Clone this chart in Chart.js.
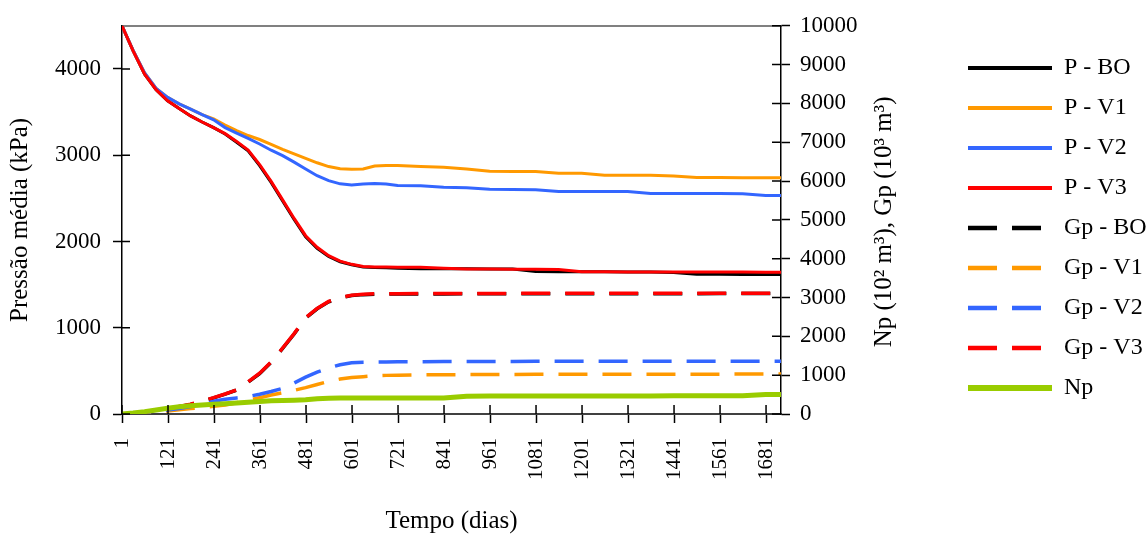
<!DOCTYPE html>
<html>
<head>
<meta charset="utf-8">
<script src="https://cdn.jsdelivr.net/npm/chart.js@4.4.0/dist/chart.umd.min.js"></script>
<style>
  html, body { margin: 0; padding: 0; background: #fff; }
  #wrap { width: 1147px; height: 534px; }
</style>
</head>
<body>
<div id="wrap"><canvas id="grafico" width="1147" height="534"></canvas></div>
<script>
// dias da simulacao
const days = [1, 30, 60, 90, 120, 150, 180, 210, 240, 270, 300, 330, 360, 390, 420, 450, 480, 510, 540, 570,
              600, 630, 660, 690, 720, 780, 840, 900, 960, 1020, 1080, 1140, 1200, 1260, 1320, 1380, 1440, 1500, 1560, 1620, 1680, 1720];

// pressao media (kPa) - eixo esquerdo
const pBO = [4500, 4210, 3940, 3760, 3630, 3540, 3455, 3385, 3320, 3245, 3150, 3050, 2880, 2685, 2470, 2255, 2055, 1920, 1825, 1765,
             1730, 1705, 1698, 1696, 1690, 1685, 1684, 1683, 1682, 1680, 1652, 1650, 1650, 1648, 1647, 1646, 1640, 1620, 1619, 1618, 1617, 1617];
const pV1 = [4500, 4215, 3955, 3775, 3670, 3595, 3535, 3470, 3420, 3350, 3285, 3228, 3182, 3125, 3068, 3015, 2963, 2912, 2868, 2842,
             2838, 2840, 2875, 2880, 2880, 2870, 2860, 2840, 2815, 2812, 2810, 2790, 2790, 2768, 2767, 2767, 2760, 2742, 2741, 2740, 2740, 2740];
const pV2 = [4500, 4215, 3955, 3775, 3670, 3595, 3535, 3470, 3410, 3320, 3255, 3195, 3130, 3058, 2995, 2920, 2840, 2762, 2705, 2668,
             2655, 2665, 2672, 2665, 2648, 2645, 2628, 2624, 2605, 2601, 2600, 2580, 2578, 2578, 2578, 2556, 2555, 2555, 2555, 2553, 2533, 2532];
const pV3 = [4500, 4210, 3940, 3760, 3630, 3540, 3455, 3385, 3320, 3250, 3160, 3060, 2892, 2697, 2482, 2267, 2067, 1932, 1835, 1772,
             1735, 1710, 1705, 1703, 1702, 1700, 1690, 1680, 1680, 1679, 1678, 1676, 1650, 1648, 1647, 1646, 1646, 1645, 1645, 1645, 1644, 1643];

// Gp (10^3 m3) e Np (10^2 m3) - eixo direito
const gpBO = [0, 20, 50, 85, 120, 190, 245, 330, 415, 510, 617, 820, 1040, 1330, 1690, 2060, 2470, 2710, 2890, 2990,
              3050, 3075, 3085, 3090, 3090, 3092, 3094, 3095, 3096, 3097, 3098, 3098, 3099, 3100, 3100, 3100, 3100, 3100, 3101, 3101, 3102, 3102];
const gpV1 = [0, 10, 30, 55, 80, 110, 140, 170, 200, 230, 290, 350, 420, 490, 545, 610, 680, 760, 840, 900,
              940, 960, 985, 995, 1000, 1008, 1012, 1015, 1018, 1020, 1022, 1023, 1024, 1025, 1025, 1026, 1026, 1027, 1027, 1028, 1028, 1028];
const gpV2 = [0, 15, 40, 70, 100, 140, 190, 250, 330, 380, 415, 450, 510, 580, 660, 800, 950, 1080, 1185, 1270,
              1320, 1335, 1340, 1342, 1345, 1347, 1350, 1352, 1354, 1355, 1356, 1357, 1358, 1358, 1359, 1360, 1360, 1361, 1361, 1362, 1362, 1362];
const gpV3 = [0, 20, 50, 85, 125, 195, 250, 335, 420, 515, 620, 830, 1050, 1340, 1700, 2070, 2480, 2720, 2900, 3000,
              3060, 3085, 3095, 3100, 3100, 3102, 3104, 3105, 3106, 3107, 3108, 3108, 3109, 3110, 3110, 3110, 3110, 3110, 3111, 3111, 3112, 3112];
const np = [0, 25, 60, 105, 150, 185, 210, 230, 250, 265, 285, 305, 325, 340, 350, 355, 365, 395, 405, 410,
            410, 410, 410, 410, 410, 410, 410, 460, 462, 463, 464, 465, 465, 465, 466, 466, 467, 467, 467, 468, 500, 505];

const xTickDays = [1, 121, 241, 361, 481, 601, 721, 841, 961, 1081, 1201, 1321, 1441, 1561, 1681];
const leftTicks = [0, 1000, 2000, 3000, 4000];

const FONT = "'Liberation Serif', 'Times New Roman', serif";
Chart.defaults.font.family = FONT;
Chart.defaults.color = '#000';

function pts(vals) {
    return days.map((d, i) => ({ x: d, y: vals[i] }));
}

const dash = [29, 15];
const series = [
    { label: 'P - BO',  data: pBO,  color: '#000000', axis: 'y',  width: 3, dashed: false },
    { label: 'P - V1',  data: pV1,  color: '#FF9900', axis: 'y',  width: 3, dashed: false },
    { label: 'P - V2',  data: pV2,  color: '#3366FF', axis: 'y',  width: 3, dashed: false },
    { label: 'P - V3',  data: pV3,  color: '#FF0000', axis: 'y',  width: 3, dashed: false },
    { label: 'Gp - BO', data: gpBO, color: '#000000', axis: 'y1', width: 3.5, dashed: true },
    { label: 'Gp - V1', data: gpV1, color: '#FF9900', axis: 'y1', width: 3.5, dashed: true },
    { label: 'Gp - V2', data: gpV2, color: '#3366FF', axis: 'y1', width: 3.5, dashed: true },
    { label: 'Gp - V3', data: gpV3, color: '#FF0000', axis: 'y1', width: 3.5, dashed: true },
    { label: 'Np',      data: np,   color: '#99CC00', axis: 'y1', width: 5, dashed: false }
];

const datasets = series.map((s, i) => ({
    label: s.label,
    data: pts(s.data),
    borderColor: s.color,
    backgroundColor: s.color,
    borderWidth: s.width,
    borderDash: s.dashed ? dash : [],
    xAxisID: 'x',
    yAxisID: s.axis,
    pointRadius: 0,
    tension: 0,
    fill: false,
    order: series.length - i   // ultima serie desenhada por cima
}));

// titulo do eixo direito (lido de baixo para cima)
const rightTitle = {
    id: 'rightTitle',
    afterDraw(chart) {
        const ctx = chart.ctx;
        const sc = chart.scales.y1;
        ctx.save();
        ctx.translate(sc.left + 103, (sc.top + sc.bottom) / 2 + 2);
        ctx.rotate(-Math.PI / 2);
        ctx.font = '25px ' + FONT;
        ctx.fillStyle = '#000';
        ctx.textAlign = 'center';
        ctx.textBaseline = 'middle';
        ctx.fillText('Np (10² m³), Gp (10³ m³)', 0, 0);
        ctx.restore();
    }
};

// marcas de escala tambem para dentro da area do grafico
const innerTicks = {
    id: 'innerTicks',
    afterDatasetsDraw(chart) {
        const ctx = chart.ctx;
        const { x, y, y1 } = chart.scales;
        ctx.save();
        ctx.strokeStyle = '#000';
        ctx.lineWidth = 1.5;
        ctx.beginPath();
        x.ticks.forEach(t => {
            const px = x.getPixelForValue(t.value);
            ctx.moveTo(px, x.top);
            ctx.lineTo(px, x.top - 9);
        });
        y.ticks.forEach(t => {
            const py = y.getPixelForValue(t.value);
            ctx.moveTo(y.right, py);
            ctx.lineTo(y.right + 8, py);
        });
        y1.ticks.forEach(t => {
            const py = y1.getPixelForValue(t.value);
            ctx.moveTo(y1.left, py);
            ctx.lineTo(y1.left - 9, py);
        });
        ctx.stroke();
        ctx.restore();
    }
};

const tickGrid = { drawOnChartArea: false, tickLength: 9, tickColor: '#000', tickWidth: 1.5 };

new Chart(document.getElementById('grafico'), {
    type: 'line',
    data: { datasets: datasets },
    plugins: [rightTitle, innerTicks],
    options: {
        responsive: false,
        animation: false,
        devicePixelRatio: 1,
        layout: { padding: { top: 25, left: 0, right: 0, bottom: 0 } },
        plugins: {
            tooltip: { enabled: false },
            legend: {
                position: 'right',
                align: 'start',
                maxWidth: 195,
                title: { display: true, text: ' ', font: { size: 12, lineHeight: 1.25 }, padding: 0 },
                labels: {
                    usePointStyle: true,
                    pointStyle: 'line',
                    pointStyleWidth: 84,
                    padding: 16,
                    color: '#000',
                    font: { size: 24 },
                    sort: (a, b) => a.datasetIndex - b.datasetIndex,
                    generateLabels: chart => {
                        const items = Chart.defaults.plugins.legend.labels.generateLabels(chart);
                        items.forEach(it => {
                            const ds = chart.data.datasets[it.datasetIndex];
                            it.lineDash = ds.borderDash;
                            it.lineWidth = ds.borderWidth + 1;
                            it.strokeStyle = ds.borderColor;
                        });
                        return items;
                    }
                }
            }
        },
        scales: {
            x: {
                type: 'linear',
                position: 'bottom',
                min: 1,
                max: 1720,
                afterBuildTicks: s => { s.ticks = xTickDays.map(v => ({ value: v })); },
                afterFit: s => { s.height = 120; },
                grid: tickGrid,
                border: { color: '#404040', width: 2 },
                ticks: {
                    autoSkip: false,
                    minRotation: 90,
                    maxRotation: 90,
                    padding: 15,
                    font: { size: 21 },
                    callback: v => String(v)
                },
                title: { display: true, text: 'Tempo (dias)', font: { size: 25, lineHeight: 1.04 }, padding: 0 }
            },
            xTop: {
                type: 'linear',
                position: 'top',
                min: 1,
                max: 1720,
                afterFit: s => { s.height = 0; },
                grid: { display: false },
                ticks: { display: false },
                border: { color: '#808080', width: 2 }
            },
            y: {
                position: 'left',
                min: 0,
                max: 4500,
                afterBuildTicks: s => { s.ticks = leftTicks.map(v => ({ value: v })); },
                afterFit: s => { s.width = 122; },
                grid: tickGrid,
                border: { color: '#000', width: 1.5 },
                ticks: { padding: 12, font: { size: 23 }, callback: v => String(v) },
                title: { display: true, text: 'Pressão média (kPa)', font: { size: 25 }, padding: { top: 5, bottom: 0 } }
            },
            y1: {
                position: 'right',
                min: 0,
                max: 10000,
                afterFit: s => { s.width = 171; },
                grid: tickGrid,
                border: { color: '#000', width: 1.5 },
                ticks: { stepSize: 1000, padding: 10, font: { size: 23 }, callback: v => String(v) }
            }
        }
    }
});
</script>
</body>
</html>
